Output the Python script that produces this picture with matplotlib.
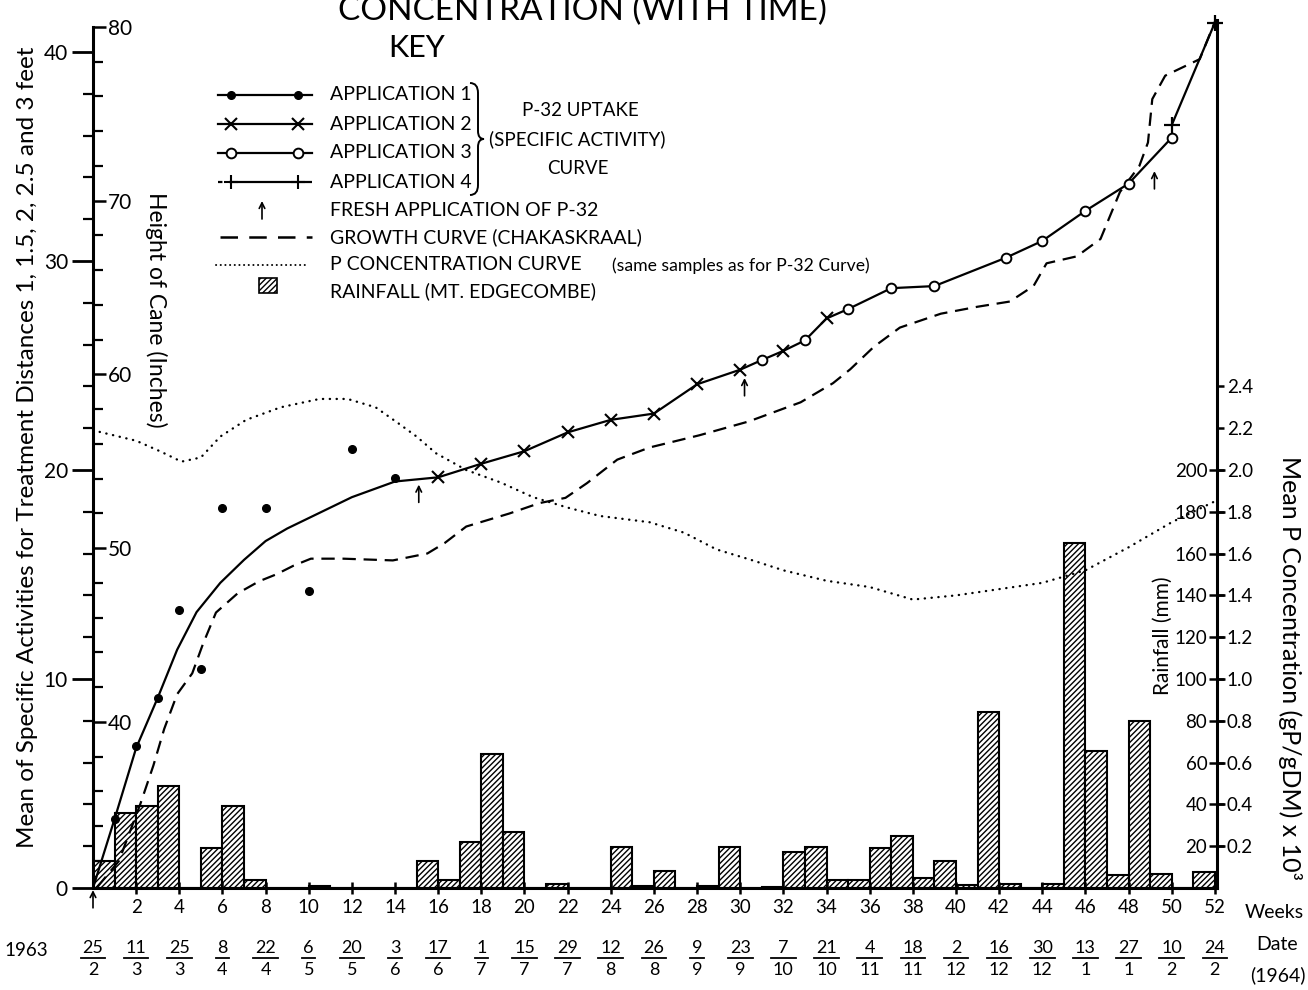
import numpy as np
import matplotlib
matplotlib.use('Agg')
import matplotlib.pyplot as plt
import matplotlib.patches as mpatches
from matplotlib.path import Path
from matplotlib import transforms

plt.rcParams['font.family'] = ['Lato', 'DejaVu Sans']
plt.rcParams['hatch.linewidth'] = 1.0

W, H, DPI = 1308, 990, 100

# ── Data ──
# rainfall (mm), one bar per week starting at the week number
rain_weeks = np.arange(0, 52)
rain_mm = [13, 36, 39, 49, 0, 19, 39, 4, 0, 0,
           1, 0, 0, 0, 0, 13, 4, 22, 64, 27,
           0, 2, 0, 0, 19.5, 1, 8, 0, 1, 19.5,
           0, 0.5, 17, 19.5, 4, 4, 19, 25, 5, 13,
           1.5, 84, 2, 0, 2, 165, 65.5, 6, 80, 6.5,
           0, 7.5]

# P-32 specific activity, application 1 (single points + fitted curve)
app1_weeks = [1, 2, 3, 4, 5, 6, 8, 10, 12, 14]
app1_sa = [3.3, 6.8, 9.1, 13.3, 10.5, 18.2, 18.2, 14.2, 21.0, 19.6]
app1_curve_weeks = [0, 1, 2, 3, 3.9, 4.8, 5.9, 7, 8, 9, 10.2, 12, 14, 16]
app1_curve_sa = [0, 3.3, 6.7, 9.1, 11.4, 13.2, 14.6, 15.7, 16.6, 17.2, 17.8, 18.7, 19.45, 19.65]

app2_weeks = [16, 18, 20, 22, 24, 26, 28, 30, 32, 34]
app2_sa = [19.65, 20.3, 20.9, 21.8, 22.4, 22.7, 24.1, 24.8, 25.7, 27.25]

app3_weeks = [31, 33, 35, 37, 39, 42.3, 44, 46, 48, 50]
app3_sa = [25.26, 26.2, 27.7, 28.7, 28.8, 30.15, 30.96, 32.4, 33.7, 35.9]

app4_weeks = [50, 52]
app4_sa = [36.5, 41.4]

# fresh application of P-32 (week, tip of arrow on SA scale)
fresh_weeks = [0, 15.1, 30.2, 49.2]
fresh_tip_sa = [-0.1, 19.3, 24.4, 34.3]

# growth curve, height of cane (inches)
growth_weeks = [0.2, 1.2, 2.2, 2.8, 3.3, 3.9, 4.6, 5.1, 5.7, 6.7, 7.7, 8.5, 9.3, 10.1,
                11.6, 13.9, 15.5, 16.3, 17.3, 19.3, 20.7, 21.9, 22.9, 24.3, 25.8,
                28.1, 30.4, 32.8, 34.3, 35.1, 36.2, 37.4, 39.3, 41.0, 42.5, 43.6,
                44.2, 45.6, 46.7, 47.6, 48.5, 48.9, 49.1, 49.7, 51.3, 52.0]
growth_in = [30.5, 32.0, 35.3, 37.5, 39.6, 41.6, 42.8, 44.5, 46.3, 47.4, 48.1, 48.5, 49.0, 49.4,
             49.4, 49.3, 49.7, 50.3, 51.25, 52.0, 52.6, 52.9, 53.75, 55.1, 55.8,
             56.5, 57.3, 58.4, 59.5, 60.3, 61.6, 62.7, 63.5, 63.9, 64.2, 65.1,
             66.4, 66.8, 67.8, 70.5, 72.0, 73.35, 75.85, 77.2, 78.15, 80.3]

# mean P concentration (gP/gDM x 10^3)
p_weeks = [0, 2, 3.1, 4.1, 5.0, 5.9, 7.1, 8.7, 10.5, 11.8, 13.1, 14.2, 15.0, 15.9,
           17.3, 18.9, 20.4, 22.0, 23.5, 25.8, 27.4, 28.9, 30.5, 32, 34, 36, 38,
           40, 42, 44, 46, 48, 50, 52]
p_conc = [2.19, 2.14, 2.09, 2.04, 2.06, 2.16, 2.24, 2.30, 2.34, 2.34, 2.30, 2.22, 2.16, 2.08,
          2.00, 1.94, 1.87, 1.82, 1.78, 1.75, 1.70, 1.62, 1.57, 1.52, 1.47, 1.44, 1.38,
          1.40, 1.43, 1.46, 1.52, 1.63, 1.75, 1.85]

week_ticks = list(range(2, 53, 2))
date_weeks = list(range(0, 53, 2))
date_num = ['25', '11', '25', '8', '22', '6', '20', '3', '17', '1', '15', '29', '12', '26',
            '9', '23', '7', '21', '4', '18', '2', '16', '30', '13', '27', '10', '24']
date_den = ['2', '3', '3', '4', '4', '5', '5', '6', '6', '7', '7', '7', '8', '8',
            '9', '9', '10', '10', '11', '11', '12', '12', '12', '1', '1', '2', '2']

sa_ticks = [0, 10, 20, 30, 40]
height_ticks = [40, 50, 60, 70, 80]
rain_ticks = list(range(20, 201, 20))
p_ticks = [round(0.2 * i, 1) for i in range(1, 13)]


def fx(px):
    return px / W


def fy(py):
    return 1 - py / H


# scale geometry (pixels): SA 0 at y=888, 20.9 px per unit; height 40in at y=722, 17.375 px/in
SA_TOP = (888 - 20) / 20.9
H_BOT = 40 - (888 - 722) / 17.375
H_TOP = 40 + (722 - 20) / 17.375
SA_80IN = (888 - (722 - 17.375 * 40)) / 20.9

fig = plt.figure(figsize=(W / DPI, H / DPI), dpi=DPI)
fig.patch.set_facecolor('white')

ax = fig.add_axes([fx(93), fy(888), fx(1217) - fx(93), fy(20) - fy(888)])
ax.set_xlim(0, 52.1)
ax.set_ylim(0, SA_TOP)
ax.patch.set_visible(False)
ax.set_zorder(3)

ax_rain = ax.twinx()
ax_rain.set_zorder(1)
ax_rain.set_ylim(0, SA_TOP * 10)
ax_h = ax.twinx()
ax_h.set_zorder(2)
ax_h.set_ylim(H_BOT, H_TOP)
ax_p = ax.twinx()
ax_p.set_zorder(2)
ax_p.set_ylim(0, SA_TOP / 10)

# ── Rainfall bars ──
ax_rain.bar(rain_weeks, rain_mm, width=1, align='edge', facecolor='white',
            edgecolor='black', hatch='//////', linewidth=1.5)

# ── P-32 uptake ──
ax.plot(app1_curve_weeks, app1_curve_sa, color='k', lw=1.6)
ax.plot(app1_weeks, app1_sa, 'o', ms=5.5, color='k')
w_all = np.array(app2_weeks + app3_weeks, dtype=float)
s_all = np.array(app2_sa + app3_sa)
order = np.argsort(w_all)
ax.plot(w_all[order], s_all[order], color='k', lw=1.6)
ax.plot(app2_weeks, app2_sa, 'x', ms=8, mew=1.5, color='k')
ax.plot(app3_weeks, app3_sa, 'o', ms=7, mfc='white', mec='k', mew=1.4)
ax.plot(app4_weeks, app4_sa, color='k', lw=1.6, marker='+', ms=11, mew=1.6, clip_on=False)

for w, tip in zip(fresh_weeks, fresh_tip_sa):
    ax.annotate('', xy=(w, tip), xytext=(w, tip - 0.85),
                arrowprops=dict(arrowstyle='->', lw=1.2, color='k',
                                shrinkA=0, shrinkB=0, mutation_scale=10),
                annotation_clip=False)

# ── Growth and P concentration ──
ax_h.plot(growth_weeks, growth_in, color='k', lw=1.6, dashes=(6, 3.5), clip_on=False)
ax_p.plot(p_weeks, p_conc, color='k', lw=1.7, linestyle=(0, (0.1, 2.8)),
          dash_capstyle='round')

# ── Axes, spines, ticks ──
for a in (ax_rain, ax_h, ax_p):
    for sp in a.spines.values():
        sp.set_visible(False)
ax.spines['top'].set_visible(False)
for s in ('left', 'right', 'bottom'):
    ax.spines[s].set_linewidth(2.2)
ax.spines['left'].set_bounds(0, SA_80IN)

ax.set_yticks(sa_ticks)
ax.set_yticks(np.arange(0, 41, 2), minor=True)
ax.tick_params(axis='y', which='major', direction='out', length=15, width=2,
               labelsize=15, pad=3)
ax.tick_params(axis='y', which='minor', direction='out', length=7, width=1.6)

ax.set_xticks(week_ticks)
ax.set_xticklabels([str(w) for w in week_ticks])
ax.tick_params(axis='x', direction='inout', length=8, width=1.8, labelsize=13.5, pad=4)

ax_h.spines['right'].set_position(('axes', 0))
ax_h.set_yticks(height_ticks)
ax_h.set_yticks(np.arange(32, 81, 2), minor=True)
ax_h.tick_params(axis='y', which='major', direction='out', length=9, width=1.8,
                 labelsize=15, pad=2)
ax_h.tick_params(axis='y', which='minor', direction='out', length=7, width=1.6)

ax_rain.yaxis.tick_left()
ax_rain.spines['left'].set_position(('axes', 1.0))
ax_rain.set_yticks(rain_ticks)
ax_rain.tick_params(axis='y', direction='inout', length=12, width=1.8, labelsize=13.5, pad=1)

ax_p.set_yticks(p_ticks)
ax_p.set_yticklabels([f'{v:.1f}' for v in p_ticks])
ax_p.tick_params(axis='y', direction='out', length=5, width=1.8, labelsize=13.5, pad=2)

# ── Axis titles and dates ──
fig.text(fx(28), fy(447), 'Mean of Specific Activities for Treatment Distances 1, 1.5, 2, 2.5 and 3 feet',
         rotation=90, ha='center', va='center', fontsize=17.5)
fig.text(fx(156), fy(310), 'Height of Cane (Inches)', rotation=270,
         ha='center', va='center', fontsize=16.5)
fig.text(fx(1163), fy(636), 'Rainfall (mm)', rotation=90,
         ha='center', va='center', fontsize=15)
fig.text(fx(1290), fy(668), 'Mean P Concentration (gP/gDM) x 10³', rotation=270,
         ha='center', va='center', fontsize=18)
fig.text(fx(1245), fy(912), 'Weeks', ha='left', va='center', fontsize=14)
fig.text(fx(1256), fy(944), 'Date', ha='left', va='center', fontsize=14)
fig.text(fx(1250), fy(975), '(1964)', ha='left', va='center', fontsize=14)
fig.text(fx(26), fy(950), '1963', ha='center', va='center', fontsize=13.5)

blend = transforms.blended_transform_factory(ax.transData, fig.transFigure)
for w, num, den in zip(date_weeks, date_num, date_den):
    ax.text(w, fy(953), num, transform=blend, ha='center', va='baseline', fontsize=13)
    ax.text(w, fy(962), den, transform=blend, ha='center', va='top', fontsize=13)
    half = 0.26 * max(len(num), len(den)) + 0.05
    ax.plot([w - half, w + half], [fy(957.5)] * 2, transform=blend, color='k',
            lw=1.3, clip_on=False)

fig.text(fx(582), fy(20), 'CONCENTRATION (WITH TIME)', ha='center', va='baseline', fontsize=24)

# ── Key (drawn in pixel units) ──
kx = fig.add_axes([0, 0, 1, 1])
kx.set_xlim(0, W)
kx.set_ylim(H, 0)
kx.axis('off')
kx.set_zorder(5)

kx.text(417, 48, 'KEY', ha='center', va='center', fontsize=22)
rows = [95, 124, 153, 182, 211, 237, 265, 291]
labels = ['APPLICATION 1', 'APPLICATION 2', 'APPLICATION 3', 'APPLICATION 4',
          'FRESH APPLICATION OF P-32', 'GROWTH CURVE (CHAKASKRAAL)',
          'P CONCENTRATION CURVE', 'RAINFALL (MT. EDGECOMBE)']
for y, lab in zip(rows, labels):
    kx.text(330, y, lab, ha='left', va='center', fontsize=14)
kx.text(612, rows[6] + 1, '(same samples as for P-32 Curve)', ha='left', va='center', fontsize=12.7)

kx.plot([218, 312], [rows[0]] * 2, color='k', lw=1.6)
kx.plot([231, 298], [rows[0]] * 2, 'o', ms=5.5, color='k')
kx.plot([218, 312], [rows[1]] * 2, color='k', lw=1.6)
kx.plot([231, 298], [rows[1]] * 2, 'x', ms=8, mew=1.5, color='k')
kx.plot([218, 312], [rows[2]] * 2, color='k', lw=1.6)
kx.plot([231, 298], [rows[2]] * 2, 'o', ms=7, mfc='white', mec='k', mew=1.4)
kx.plot([218, 312], [rows[3]] * 2, color='k', lw=1.6, dashes=(2, 3, 60, 3, 2))
kx.plot([231, 298], [rows[3]] * 2, '+', ms=10, mew=1.5, color='k')
kx.annotate('', xy=(262, rows[4] - 10), xytext=(262, rows[4] + 8),
            arrowprops=dict(arrowstyle='->', lw=1.2, color='k', shrinkA=0, shrinkB=0,
                            mutation_scale=10))
kx.plot([220, 312], [rows[5]] * 2, color='k', lw=1.8, dashes=(7, 4.5))
kx.plot([216, 307], [rows[6]] * 2, color='k', lw=1.4, linestyle=(0, (0.1, 2.3)),
        dash_capstyle='round')
kx.add_patch(mpatches.Rectangle((259, rows[7] - 13), 18, 15, facecolor='white',
                                edgecolor='k', hatch='//////', lw=1.2))

# brace
bx, top, bot = 470, 83, 195
mid = (top + bot) / 2
verts = [(bx, top), (bx + 8, top), (bx + 8, top + 10),
         (bx + 8, mid - 8), (bx + 8, mid), (bx + 14, mid),
         (bx + 8, mid), (bx + 8, mid + 8),
         (bx + 8, bot - 10), (bx + 8, bot), (bx, bot)]
codes = [Path.MOVETO, Path.CURVE3, Path.CURVE3,
         Path.LINETO, Path.CURVE3, Path.CURVE3,
         Path.CURVE3, Path.CURVE3,
         Path.LINETO, Path.CURVE3, Path.CURVE3]
kx.add_patch(mpatches.PathPatch(Path(verts, codes), facecolor='none', edgecolor='k', lw=1.4))
kx.text(580, 110, 'P-32 UPTAKE', ha='center', va='center', fontsize=13.5)
kx.text(577, 139, '(SPECIFIC ACTIVITY)', ha='center', va='center', fontsize=13.5)
kx.text(578, 168, 'CURVE', ha='center', va='center', fontsize=13.5)

fig.savefig('out.png', dpi=DPI, facecolor='white')
